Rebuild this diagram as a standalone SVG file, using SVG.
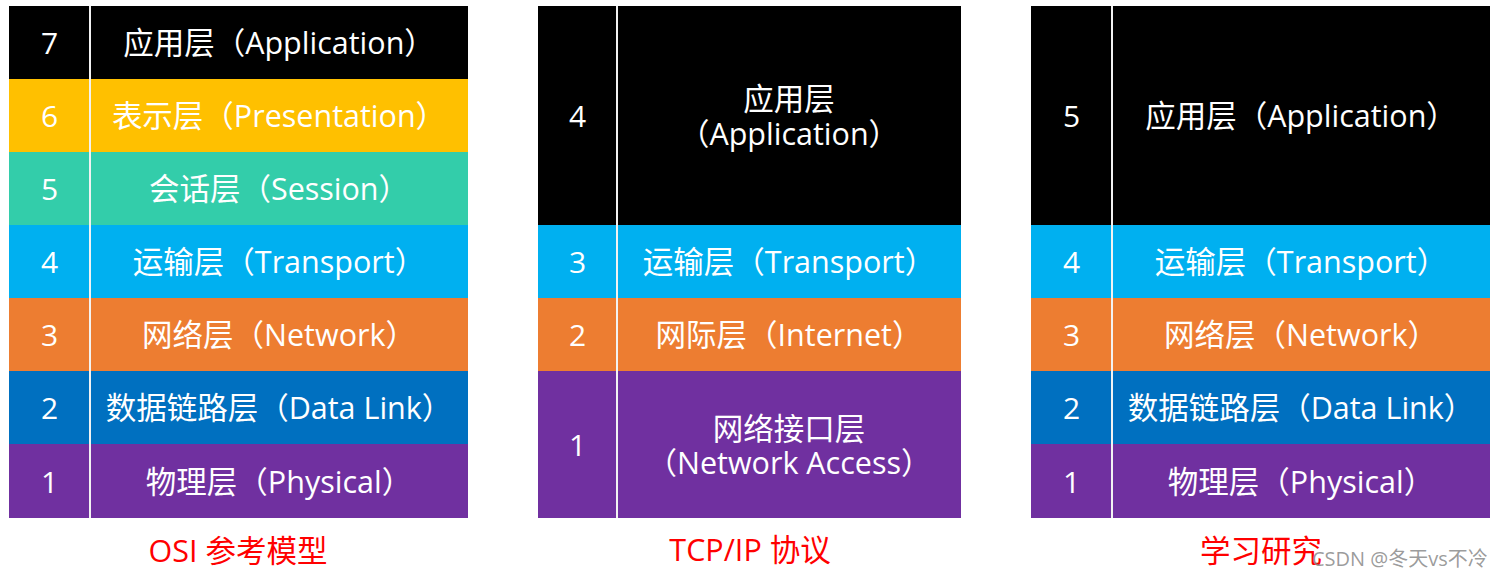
<svg xmlns="http://www.w3.org/2000/svg" width="1496" height="578" viewBox="0 0 1496 578">
<style>
  text { font-family: "Open Sans", "Noto Sans CJK SC", sans-serif; }
  .t { fill: #ffffff; font-size: 30.5px; text-anchor: middle; }
  .n { fill: #ffffff; font-size: 30px; text-anchor: middle; }
  .title { fill: #ff0000; font-size: 30.5px; text-anchor: middle; }
  .wm { fill: #8a8a8a; font-size: 20px; fill-opacity: 0.85; }
  .div { stroke: #f2f2f2; stroke-width: 2; }
  .c7 { fill: #000000; }
  .c6 { fill: #ffc000; }
  .c5 { fill: #33cdaa; }
  .c4 { fill: #00b0f0; }
  .c3 { fill: #ed7d31; }
  .c2 { fill: #0070c0; }
  .c1 { fill: #7030a0; }
</style>
<rect width="1496" height="578" fill="#ffffff"/>

<g id="osi">
  <g id="osi-7"><rect class="c7" x="9" y="6" width="459" height="73"/><text class="n" x="49.5" y="54">7</text><text class="t" x="279" y="54">应用层（Application）</text></g>
  <g id="osi-6"><rect class="c6" x="9" y="79" width="459" height="73"/><text class="n" x="49.5" y="127">6</text><text class="t" x="279" y="127">表示层（Presentation）</text></g>
  <g id="osi-5"><rect class="c5" x="9" y="152" width="459" height="73"/><text class="n" x="49.5" y="200">5</text><text class="t" x="279" y="200">会话层（Session）</text></g>
  <g id="osi-4"><rect class="c4" x="9" y="225" width="459" height="73"/><text class="n" x="49.5" y="273">4</text><text class="t" x="279" y="273">运输层（Transport）</text></g>
  <g id="osi-3"><rect class="c3" x="9" y="298" width="459" height="73"/><text class="n" x="49.5" y="346">3</text><text class="t" x="279" y="346">网络层（Network）</text></g>
  <g id="osi-2"><rect class="c2" x="9" y="371" width="459" height="73"/><text class="n" x="49.5" y="419">2</text><text class="t" x="279" y="419">数据链路层（Data Link）</text></g>
  <g id="osi-1"><rect class="c1" x="9" y="444" width="459" height="74"/><text class="n" x="49.5" y="492.5">1</text><text class="t" x="279" y="492.5">物理层（Physical）</text></g>
  <line class="div" x1="90" y1="6" x2="90" y2="518"/>
  <text id="osi-title" class="title" x="238" y="562">OSI 参考模型</text>
</g>

<g id="tcpip">
  <g id="tcp-4"><rect class="c7" x="538" y="6" width="423" height="219"/><text class="n" x="577.5" y="127">4</text><text class="t" x="789" y="110"><tspan x="789" y="110">应用层</tspan><tspan x="789" y="144.5">（Application）</tspan></text></g>
  <g id="tcp-3"><rect class="c4" x="538" y="225" width="423" height="73"/><text class="n" x="577.5" y="273">3</text><text class="t" x="789" y="273">运输层（Transport）</text></g>
  <g id="tcp-2"><rect class="c3" x="538" y="298" width="423" height="73"/><text class="n" x="577.5" y="346">2</text><text class="t" x="789" y="346">网际层（Internet）</text></g>
  <g id="tcp-1"><rect class="c1" x="538" y="371" width="423" height="147"/><text class="n" x="577.5" y="456">1</text><text class="t" x="789" y="440"><tspan x="789" y="440">网络接口层</tspan><tspan x="789" y="474">（Network Access）</tspan></text></g>
  <line class="div" x1="617" y1="6" x2="617" y2="518"/>
  <text id="tcp-title" class="title" x="750" y="561">TCP/IP 协议</text>
</g>

<g id="study">
  <g id="st-5"><rect class="c7" x="1031" y="6" width="459" height="219"/><text class="n" x="1071.5" y="127">5</text><text class="t" x="1301" y="127">应用层（Application）</text></g>
  <g id="st-4"><rect class="c4" x="1031" y="225" width="459" height="73"/><text class="n" x="1071.5" y="273">4</text><text class="t" x="1301" y="273">运输层（Transport）</text></g>
  <g id="st-3"><rect class="c3" x="1031" y="298" width="459" height="73"/><text class="n" x="1071.5" y="346">3</text><text class="t" x="1301" y="346">网络层（Network）</text></g>
  <g id="st-2"><rect class="c2" x="1031" y="371" width="459" height="73"/><text class="n" x="1071.5" y="419">2</text><text class="t" x="1301" y="419">数据链路层（Data Link）</text></g>
  <g id="st-1"><rect class="c1" x="1031" y="444" width="459" height="74"/><text class="n" x="1071.5" y="492.5">1</text><text class="t" x="1301" y="492.5">物理层（Physical）</text></g>
  <line class="div" x1="1112" y1="6" x2="1112" y2="518"/>
  <text id="study-title" class="title" x="1261" y="562">学习研究</text>
</g>

<text class="wm" x="1312" y="566">CSDN @冬天vs不冷</text>
</svg>
